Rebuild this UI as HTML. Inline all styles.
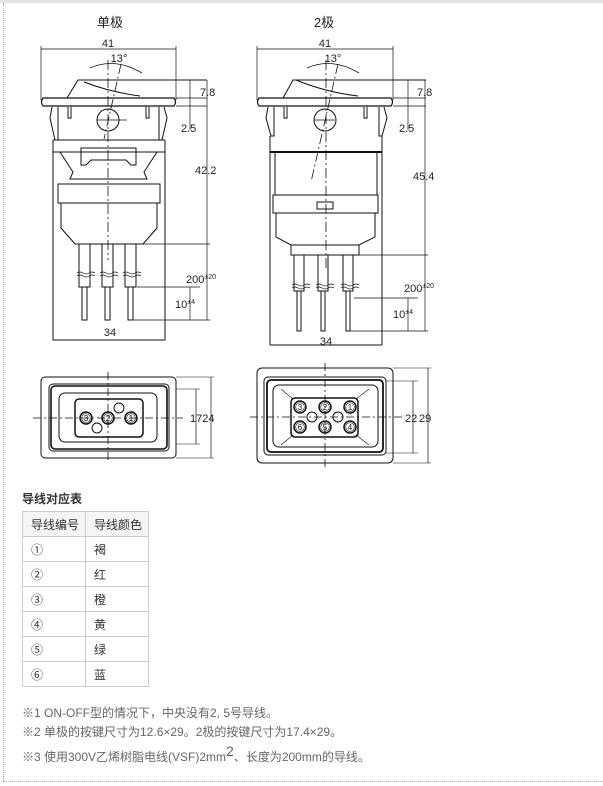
<!DOCTYPE html>
<html><head><meta charset="utf-8"><style>
body{margin:0;width:603px;height:786px;background:#fff;overflow:hidden;position:relative;font-family:"Liberation Sans","Noto Sans CJK SC",sans-serif}
.top{position:absolute;left:0;top:0;width:603px;height:3px;background:#e4e4e4}
.lb{position:absolute;left:3px;top:3px;height:778px;border-left:1px dotted #aaa}
.bb{position:absolute;left:3px;top:781px;width:600px;border-top:1px dotted #aaa}
svg{position:absolute;left:0;top:0}
.tt{position:absolute;left:22px;top:490px;font-size:12px;font-weight:bold;color:#333}
table{position:absolute;left:22px;top:511px;border-collapse:collapse;font-size:12px;color:#333}
td{border:1px solid #ccc;height:25px;padding:0 0 0 8px;box-sizing:border-box}
tr:first-child td{background:#f5f5f5}
.n{position:absolute;left:22px;font-size:12px;color:#666;white-space:nowrap}
</style></head><body>
<div class="top"></div><div class="lb"></div><div class="bb"></div>
<svg width="603" height="786" viewBox="0 0 603 786" fill="none" stroke="#111" stroke-width="1" font-family="Liberation Sans,Noto Sans CJK SC,sans-serif">
<g id="L">
<text x="110" y="27" font-size="13" fill="#222" stroke="none" text-anchor="middle">单极</text>
<line x1="41" y1="49" x2="176" y2="49" stroke-width=".7"/>
<line x1="41" y1="46" x2="41" y2="100" stroke-width=".7"/><line x1="176" y1="46" x2="176" y2="100" stroke-width=".7"/>
<text x="108" y="47" font-size="11" fill="#222" stroke="none" text-anchor="middle">41</text>
<text x="119" y="62" font-size="11" fill="#222" stroke="none" text-anchor="middle">13°</text>
<path d="M90 68 Q115 57 142 73" stroke-width=".8"/>
<line x1="108" y1="60" x2="108" y2="260" stroke-dasharray="10 3 2 3" stroke-width=".8"/>
<line x1="121" y1="64" x2="104" y2="139" stroke-dasharray="10 3 2 3" stroke-width=".8"/>
<path d="M67 98 L78 80 L207 80 M84 82 Q110 92 140 96"/>
<path d="M43 98 L174 98 Q177 102 174 106 L43 106 Q40 102 43 98 Z" stroke-width="1.2"/>
<line x1="176" y1="98" x2="207" y2="98" stroke-width=".7"/><line x1="176" y1="106" x2="207" y2="106" stroke-width=".7"/>
<line x1="190" y1="80" x2="190" y2="130" stroke-width=".7"/>
<text x="200" y="96" font-size="11" fill="#222" stroke="none">7.8</text>
<text x="181" y="132" font-size="11" fill="#222" stroke="none">2.5</text>
<line x1="207" y1="80" x2="207" y2="320" stroke-width=".7"/>
<text x="195" y="174" font-size="11" fill="#222" stroke="none">42.2</text>
<path d="M52 107 L50 118 L55 140 L58 140 L58 107 M164 107 L167 118 L162 140 L159 140 L159 107"/>
<path d="M68 107 L68 118 L71 118 L71 107 M146 107 L146 118 L149 118 L149 107"/>
<circle cx="108" cy="120" r="11"/><line x1="97" y1="120" x2="127" y2="120" stroke-width=".7"/>
<path d="M53 140 L53 340 L165 340 L165 140 M53 140 L165 140 M53 152 L165 152"/>
<path d="M60 152 L73 172 L70 179 L147 179 L144 172 L157 152"/>
<path d="M81 148 L136 148 L136 165 L131 165 L126 160 L91 160 L86 165 L81 165 Z"/>
<rect x="58" y="184" width="102" height="19"/>
<path d="M61 203 L61 228 L75 244 L143 244 L157 228 L157 203"/>
<line x1="75" y1="244" x2="210" y2="244" stroke-width=".7"/>
<g id="wL"><path d="M79 244 L79 287 L90 287 L90 244 M82 287 L82 320 L87 320 L87 287"/>
<path d="M77 273 q3 -2 6 0 t6 0 t6 0 M77 276 q3 -2 6 0 t6 0 t6 0" stroke-width=".7"/></g>
<use href="#wL" x="23"/><use href="#wL" x="46"/>
<line x1="137" y1="287" x2="200" y2="287" stroke-width=".7"/>
<line x1="130" y1="320" x2="210" y2="320" stroke-width=".7"/>
<line x1="190" y1="287" x2="190" y2="320" stroke-width=".7"/>
<text x="186" y="283" font-size="11" fill="#222" stroke="none">200<tspan font-size="7" dy="-4">±20</tspan></text>
<text x="175" y="308" font-size="11" fill="#222" stroke="none">10<tspan font-size="7" dy="-4">±4</tspan></text>
<text x="110" y="336" font-size="11" fill="#222" stroke="none" text-anchor="middle">34</text>
</g>
<g id="R">
<text x="324" y="27" font-size="13" fill="#222" stroke="none" text-anchor="middle">2极</text>
<line x1="257" y1="49" x2="393" y2="49" stroke-width=".7"/>
<line x1="257" y1="46" x2="257" y2="100" stroke-width=".7"/><line x1="393" y1="46" x2="393" y2="100" stroke-width=".7"/>
<text x="325" y="47" font-size="11" fill="#222" stroke="none" text-anchor="middle">41</text>
<text x="333" y="62" font-size="11" fill="#222" stroke="none" text-anchor="middle">13°</text>
<path d="M307 68 Q332 57 359 73" stroke-width=".8"/>
<line x1="326" y1="60" x2="326" y2="268" stroke-dasharray="10 3 2 3" stroke-width=".8"/>
<line x1="338" y1="64" x2="311" y2="182" stroke-dasharray="10 3 2 3" stroke-width=".8"/>
<path d="M283 98 L293 80 L426 80 M296 80 Q325 92 358 96"/>
<path d="M259 98 L391 98 Q394 102 391 106 L259 106 Q256 102 259 98 Z" stroke-width="1.2"/>
<line x1="393" y1="98" x2="426" y2="98" stroke-width=".7"/><line x1="393" y1="106" x2="426" y2="106" stroke-width=".7"/>
<line x1="408" y1="80" x2="408" y2="130" stroke-width=".7"/>
<text x="417" y="96" font-size="11" fill="#222" stroke="none">7.8</text>
<text x="399" y="132" font-size="11" fill="#222" stroke="none">2.5</text>
<line x1="425" y1="80" x2="425" y2="331" stroke-width=".7"/>
<text x="413" y="180" font-size="11" fill="#222" stroke="none">45.4</text>
<path d="M268 107 L266 118 L271 136 L274 136 L274 107 M384 107 L387 118 L382 136 L379 136 L379 107"/>
<path d="M284 107 L284 118 L287 118 L287 107 M364 107 L364 118 L367 118 L367 107"/>
<circle cx="325" cy="120" r="11"/><line x1="314" y1="120" x2="335" y2="120" stroke-width=".7"/>
<path d="M270 136 L270 345 M382 136 L382 345 M270 345 L382 345"/>
<path d="M270 152 L382 152" stroke-width="2"/>
<path d="M275 153 L275 195 M377 153 L377 195"/>
<rect x="273" y="195" width="105" height="18"/>
<rect x="317" y="202" width="16" height="7"/>
<path d="M276 213 L276 237 L291 245 L359 245 L375 237 L375 213"/>
<rect x="291" y="245" width="68" height="10"/>
<line x1="359" y1="255" x2="428" y2="255" stroke-width=".7"/>
<g id="wR"><path d="M294 255 L294 291 L304 291 L304 255 M297 291 L297 331 L301 331 L301 291"/>
<path d="M292 285 q3 -2 6 0 t6 0 t6 0 M292 288 q3 -2 6 0 t6 0 t6 0" stroke-width=".7"/></g>
<use href="#wR" x="24"/><use href="#wR" x="49"/>
<line x1="354" y1="298" x2="418" y2="298" stroke-width=".7"/>
<line x1="350" y1="331" x2="428" y2="331" stroke-width=".7"/>
<line x1="408" y1="298" x2="408" y2="331" stroke-width=".7"/>
<text x="404" y="292" font-size="11" fill="#222" stroke="none">200<tspan font-size="7" dy="-4">±20</tspan></text>
<text x="393" y="318" font-size="11" fill="#222" stroke="none">10<tspan font-size="7" dy="-4">±4</tspan></text>
<text x="326" y="345" font-size="11" fill="#222" stroke="none" text-anchor="middle">34</text>
</g>
<g id="BL">
<rect x="41" y="377" width="135" height="81" rx="4"/>
<rect x="49" y="384" width="120" height="67" rx="4"/>
<rect x="51" y="386" width="116" height="63" rx="4" stroke-width="1.6"/>
<rect x="59" y="393" width="98" height="49" rx="6"/>
<rect x="75" y="399" width="68" height="38" rx="4" stroke-width="1.5"/>
<line x1="108" y1="372" x2="108" y2="463" stroke-dasharray="8 3 2 3" stroke-width=".8"/>
<line x1="33" y1="418" x2="183" y2="418" stroke-dasharray="8 3 2 3" stroke-width=".8"/>
<g font-size="8" text-anchor="middle" stroke-width="1">
<circle cx="86" cy="418" r="6" stroke-width="1.5"/><circle cx="86" cy="418" r="4.3" stroke-width=".6"/><text x="86" y="421" fill="#111" stroke="none">3</text>
<circle cx="108" cy="418" r="6" stroke-width="1.5"/><circle cx="108" cy="418" r="4.3" stroke-width=".6"/><text x="108" y="421" fill="#111" stroke="none">2</text>
<circle cx="131" cy="418" r="6" stroke-width="1.5"/><circle cx="131" cy="418" r="4.3" stroke-width=".6"/><text x="131" y="421" fill="#111" stroke="none">1</text>
</g>
<circle cx="119" cy="408" r="5"/><circle cx="97" cy="428" r="5"/>
<line x1="176" y1="389" x2="200" y2="389" stroke-width=".6"/><line x1="176" y1="444" x2="200" y2="444" stroke-width=".6"/>
<line x1="196" y1="389" x2="196" y2="444" stroke-width=".7"/>
<line x1="176" y1="377" x2="214" y2="377" stroke-width=".6"/><line x1="176" y1="458" x2="214" y2="458" stroke-width=".6"/>
<line x1="211" y1="377" x2="211" y2="458" stroke-width=".7"/>
<text x="190" y="422" font-size="11" fill="#222" stroke="none">1724</text>
</g>
<g id="BR">
<rect x="257" y="368" width="136" height="95" rx="5"/>
<rect x="264" y="377" width="122" height="78" rx="4"/>
<rect x="267" y="380" width="116" height="72" rx="4" stroke-width="1.8"/>
<rect x="273" y="385" width="105" height="62" rx="6"/>
<rect x="291" y="398" width="67" height="39" rx="4" stroke-width="1.5"/>
<path d="M281 389 L293 399 M369 389 L356 399 M281 445 L293 435 M369 445 L356 435" stroke-width=".6"/>
<line x1="325" y1="363" x2="325" y2="470" stroke-dasharray="8 3 2 3" stroke-width=".8"/>
<line x1="250" y1="417" x2="405" y2="417" stroke-dasharray="8 3 2 3" stroke-width=".8"/>
<g font-size="8" text-anchor="middle">
<circle cx="300" cy="407" r="6" stroke-width="1.5"/><circle cx="300" cy="407" r="4.3" stroke-width=".6"/><text x="300" y="410" fill="#111" stroke="none">3</text>
<circle cx="325" cy="407" r="6" stroke-width="1.5"/><circle cx="325" cy="407" r="4.3" stroke-width=".6"/><text x="325" y="410" fill="#111" stroke="none">2</text>
<circle cx="350" cy="407" r="6" stroke-width="1.5"/><circle cx="350" cy="407" r="4.3" stroke-width=".6"/><text x="350" y="410" fill="#111" stroke="none">1</text>
<circle cx="300" cy="427" r="6" stroke-width="1.5"/><circle cx="300" cy="427" r="4.3" stroke-width=".6"/><text x="300" y="430" fill="#111" stroke="none">6</text>
<circle cx="325" cy="427" r="6" stroke-width="1.5"/><circle cx="325" cy="427" r="4.3" stroke-width=".6"/><text x="325" y="430" fill="#111" stroke="none">5</text>
<circle cx="350" cy="427" r="6" stroke-width="1.5"/><circle cx="350" cy="427" r="4.3" stroke-width=".6"/><text x="350" y="430" fill="#111" stroke="none">4</text>
</g>
<circle cx="312" cy="417" r="5"/><circle cx="338" cy="417" r="5"/>
<line x1="386" y1="381" x2="418" y2="381" stroke-width=".6"/><line x1="386" y1="453" x2="418" y2="453" stroke-width=".6"/>
<line x1="413" y1="381" x2="413" y2="453" stroke-width=".7"/>
<line x1="393" y1="368" x2="431" y2="368" stroke-width=".6"/><line x1="393" y1="463" x2="431" y2="463" stroke-width=".6"/>
<line x1="428" y1="368" x2="428" y2="463" stroke-width=".7"/>
<text x="405" y="422" font-size="11" fill="#222" stroke="none">22</text><text x="419" y="422" font-size="11" fill="#222" stroke="none">29</text>
</g>
</svg>
<div class="tt">导线对应表</div>
<table>
<tr><td style="width:63px">导线编号</td><td style="width:63px">导线颜色</td></tr>
<tr><td>①</td><td>褐</td></tr>
<tr><td>②</td><td>红</td></tr>
<tr><td>③</td><td>橙</td></tr>
<tr><td>④</td><td>黄</td></tr>
<tr><td>⑤</td><td>绿</td></tr>
<tr><td>⑥</td><td>蓝</td></tr>
</table>
<div class="n" style="top:704px">※1 ON-OFF型的情况下，中央没有2, 5号导线。</div>
<div class="n" style="top:723px">※2 单极的按键尺寸为12.6×29。2极的按键尺寸为17.4×29。</div>
<div class="n" style="top:748px">※3 使用300V乙烯树脂电线(VSF)2mm<sup style="font-size:14px;line-height:0">2</sup>、长度为200mm的导线。</div>
</body></html>
